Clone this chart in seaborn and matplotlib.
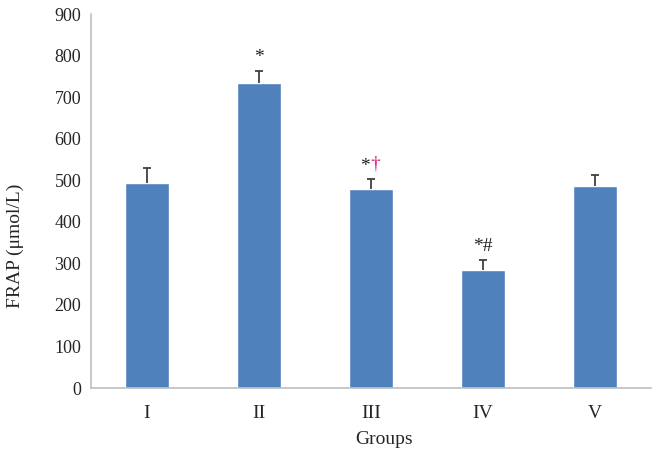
import numpy as np
import pandas as pd
import matplotlib
matplotlib.use("Agg")
import matplotlib.pyplot as plt
import seaborn as sns

# data
groups = ["I", "II", "III", "IV", "V"]
frap = [494, 733, 478, 284, 486]
frap_se = [36, 31, 24, 24, 26]
marks_black = ["", "*", "*", "*#", ""]
marks_red = ["", "", "\u2020", "", ""]

sns.set_style("white")
plt.rcParams["font.family"] = ["Liberation Serif", "DejaVu Serif"]

df = pd.DataFrame({"group": groups, "frap": frap, "se": frap_se})

fig = plt.figure(figsize=(6.57, 4.58), dpi=100)
ax = fig.add_axes([0.1385, 0.1528, 0.8525, 0.8166])

sns.barplot(data=df, x="group", y="frap", color="#4f81bd", saturation=1,
            width=0.39, errorbar=None, ax=ax)
# upper-only error bars, drop the cap that sits on the bar top
_, caps, _ = ax.errorbar(np.arange(len(groups)), df["frap"],
                         yerr=[np.zeros(len(groups)), df["se"]],
                         fmt="none", ecolor="#404040", elinewidth=1.3,
                         capsize=3, capthick=1.3)
caps[0].remove()

# significance marks above the error bars
for i, (v, s) in enumerate(zip(frap, frap_se)):
    top = v + s + 32
    if marks_black[i] and marks_red[i]:
        ax.text(i - 0.01, top, marks_black[i], ha="right", va="center", fontsize=14, color="#222222")
        ax.text(i - 0.01, top + 5, marks_red[i], ha="left", va="center", fontsize=14, color="#e0107a")
    elif marks_black[i]:
        ax.text(i, top, marks_black[i], ha="center", va="center", fontsize=14, color="#222222")

ax.set_xlim(-0.5, len(groups) - 0.5)
ax.set_ylim(0, 900)
ax.set_yticks(range(0, 901, 100))

for side in ["top", "right"]:
    ax.spines[side].set_visible(False)
for side in ["left", "bottom"]:
    ax.spines[side].set_color("#bfbfbf")
    ax.spines[side].set_linewidth(1.2)

ax.tick_params(axis="y", which="major", length=5, color="#bfbfbf", labelsize=13, pad=2)
ax.tick_params(axis="x", which="major", length=0, labelsize=14, pad=12)
ax.set_xticks(np.arange(-0.5, len(groups)), minor=True)
ax.tick_params(axis="x", which="minor", length=5, color="#bfbfbf", width=1.2)

ax.set_xlabel("Groups", fontsize=14)
ax.set_ylabel("FRAP (\u03bcmol/L)", fontsize=14)
ax.xaxis.set_label_coords(0.523, -0.115)
ax.yaxis.set_label_coords(-0.12, 0.38)

fig.savefig("out.png", dpi=100)
